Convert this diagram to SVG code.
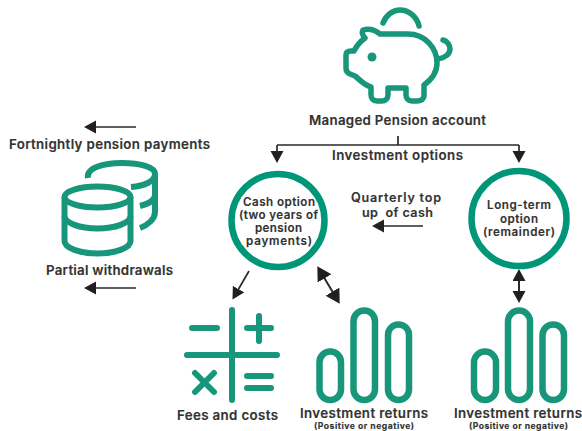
<svg xmlns="http://www.w3.org/2000/svg" width="582" height="431" viewBox="0 0 582 431">
<style>
text{font-family:"Inter","Liberation Sans",sans-serif;font-weight:600;fill:#333;white-space:pre;stroke:#333;stroke-width:.15px}
.l{font-size:13.300px}.m{font-size:11.600px}.s{font-size:8.600px;font-weight:700}.q{font-size:12.600px}
.i{fill:none;stroke:#18967a;stroke-linecap:round;stroke-linejoin:round}
.c{fill:none;stroke:#009678;stroke-width:6.500}
.a{fill:none;stroke:#2b2a2b;stroke-width:1.700}
</style>
<defs>
<marker id="h" markerUnits="userSpaceOnUse" markerWidth="14" markerHeight="14" refX="1" refY="6.500" orient="auto-start-reverse"><path d="M0 0L12 6.500L0 13Z" fill="#231f20"/></marker>
<marker id="b" markerUnits="userSpaceOnUse" markerWidth="16" markerHeight="18" refX="1" refY="8" orient="auto-start-reverse"><path d="M0 0L14 8L0 16Z" fill="#231f20"/></marker>
</defs>
<rect width="582" height="431" fill="#fff"/>
<g id="connectors">
<path class="a" d="M398 136V145M277 145H519"/>
<path class="a" d="M277 145V152" marker-end="url(#h)"/>
<path class="a" d="M519 145V152" marker-end="url(#h)"/>
<path class="a" d="M136 127H95" marker-end="url(#h)"/>
<path class="a" d="M136 288H95" marker-end="url(#h)"/>
<path class="a" d="M423 226H383" marker-end="url(#h)"/>
<path class="a" d="M249 271L238 290" marker-end="url(#h)"/>
<path class="a" d="M324 277.500L333 292.500" marker-start="url(#b)" marker-end="url(#b)" style="stroke-width:2"/>
<path class="a" d="M519 280V292" marker-start="url(#h)" marker-end="url(#h)" style="stroke-width:2"/>
</g>
<g id="pension-account">
<path class="i" stroke-width="5.500" d="M383 23C386 15 393 10 400 10C409 10 417 17 419 26"/>
<path class="i" stroke-width="5.500" d="M380 34H408C425 34 437 48 437 63C437 72 431 80 424 85V95C424 99 421 101 417 101H412C408 101 406 98 406 95V88H388V95C388 99 385 101 382 101H377C373 101 371 98 371 95V87C364 85 360 80 355 76L350 74C347 73 346 71 346 68V55C346 52 348 51 351 51H354C357 45 361 41 365 38C362 35 362 32 363 30C369 28 375 30 380 34Z"/>
<path class="i" stroke-width="5.500" d="M438 59C445 58 450 54 450 49C450 45 447 41 443 40"/>
<circle cx="372" cy="57" r="4.500" fill="#18967a"/>
<text class="l" x="309" y="125" textLength="177">Managed Pension account</text>
<text class="l" x="332" y="160" textLength="131">Investment options</text>
</g>
<g id="payments">
<text class="l" x="9" y="149" textLength="201">Fortnightly pension payments</text>
<text class="l" x="46" y="275" textLength="127">Partial withdrawals</text>
<g class="i" stroke-width="6" style="stroke-linecap:butt">
<ellipse cx="97.500" cy="197" rx="33" ry="10.500"/>
<path d="M64.500 197V241C64.500 248 80 253.500 97.500 253.500S130.500 248 130.500 241V197"/>
<path d="M64.500 216C64.500 223 80 228.500 97.500 228.500S130.500 223 130.500 216"/>
<path d="M88 178C86 168 103 163 122 163C140 163 155 167 155 174V212C155 219 148 225 140 228"/>
<path d="M131 187C145 186 155 181 155 174"/>
<path d="M140 206C148 204 155 200 155 195"/>
</g>
</g>
<g id="cash-option">
<circle class="c" cx="278" cy="220.500" r="46.500"/>
<text class="m"><tspan x="243" y="206" textLength="72">Cash option</tspan><tspan x="239" y="219" textLength="79">(two years of</tspan><tspan x="255" y="232" textLength="47">pension</tspan><tspan x="246" y="245" textLength="66">payments)</tspan></text>
</g>
<g id="top-up">
<text class="q"><tspan x="351" y="201.500" textLength="90">Quarterly top</tspan><tspan x="362" y="216.500" textLength="71">up  of cash</tspan></text>
</g>
<g id="long-term-option">
<circle class="c" cx="519" cy="218.500" r="47.500"/>
<text class="m"><tspan x="487" y="209" textLength="64">Long-term</tspan><tspan x="500" y="223" textLength="38">option</tspan><tspan x="483" y="236" textLength="72">(remainder)</tspan></text>
</g>
<g id="fees-and-costs">
<path class="i" stroke-width="6" d="M232 310V400M187 355H277M192 328H217M247 328H271M259 316V341M195 373L214 392M214 373L195 392M247 376H271M247 388H271"/>
<text class="l" x="177" y="420" textLength="101">Fees and costs</text>
</g>
<g id="returns-cash">
<rect class="i" stroke-width="6.500" x="319.500" y="351.500" width="21.500" height="48.500" rx="10.700"/>
<rect class="i" stroke-width="6.500" x="353.500" y="310.500" width="21.500" height="89.500" rx="10.700"/>
<rect class="i" stroke-width="6.500" x="388" y="324.500" width="21" height="75.500" rx="10.500"/>
<text class="l" x="300" y="418" textLength="128">Investment returns</text>
<text class="s" x="314" y="428.500" textLength="100">(Positive or negative)</text>
</g>
<g id="returns-long-term">
<rect class="i" stroke-width="6.500" x="474" y="351.500" width="22" height="48.500" rx="11"/>
<rect class="i" stroke-width="6.500" x="508" y="310.500" width="22" height="89.500" rx="11"/>
<rect class="i" stroke-width="6.500" x="542.500" y="324.500" width="21.500" height="75.500" rx="10.700"/>
<text class="l" x="454" y="418" textLength="128">Investment returns</text>
<text class="s" x="469" y="428.500" textLength="99">(Positive or negative)</text>
</g>
</svg>
